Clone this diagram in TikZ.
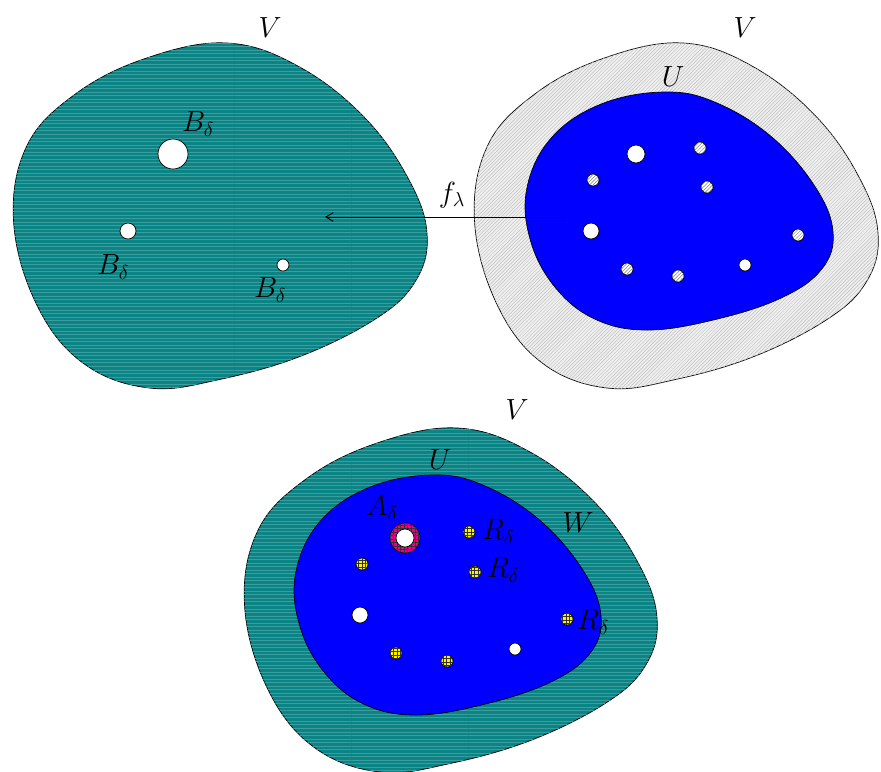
\documentclass[tikz,border=0pt]{standalone}
\usepackage{amsmath,amssymb}
\usepackage{xcolor}
\usepackage{tikz}
\usetikzlibrary{arrows.meta,patterns}

\definecolor{tealfill}{RGB}{10,132,132}
\definecolor{ublue}{RGB}{0,0,255}

% the two region outlines, in a unit box (0..1 wide, 0..1 high)
\newcommand{\outershape}{plot[smooth cycle, tension=0.65] coordinates {
  (0.517,0) (0.692,0.070) (0.853,0.223) (0.960,0.410) (0.998,0.562)
  (0.970,0.690) (0.880,0.795) (0.700,0.905) (0.500,0.975) (0.330,1)
  (0.171,0.928) (0.060,0.760) (0.004,0.520) (0.035,0.300)
  (0.150,0.150) (0.320,0.045)}}
\newcommand{\innershape}{plot[smooth cycle, tension=0.65] coordinates {
  (0.455,0) (0.620,0.045) (0.800,0.190) (0.940,0.400) (0.997,0.590)
  (0.960,0.745) (0.830,0.865) (0.620,0.955) (0.400,1) (0.230,0.955)
  (0.100,0.820) (0.020,0.620) (0.010,0.400) (0.090,0.190) (0.250,0.050)}}

\begin{document}
\begin{tikzpicture}[
  x=0.03cm, y=-0.03cm,
  font=\fontsize{26}{30}\selectfont,
  edge/.style   ={draw=black, line width=0.6pt},
  vset/.style   ={edge, fill=tealfill, postaction={pattern=horizontal lines, pattern color=tealfill!80!white}},
  vgray/.style  ={edge, fill=gray!12, postaction={pattern=north east lines, pattern color=gray!50}},
  uset/.style   ={edge, fill=ublue},
  hole/.style   ={edge, fill=white},
  ghole/.style  ={edge, fill=white, postaction={pattern=north east lines, pattern color=gray}},
  rball/.style  ={edge, fill=yellow, postaction={pattern=grid, pattern color=black!80}},
  aring/.style  ={edge, fill=magenta, postaction={pattern=grid, pattern color=black!80}},
  lbl/.style    ={inner sep=0pt},
  arr/.style    ={-{Straight Barb[length=2.2mm,width=2.6mm]}, line width=0.8pt}
]
\useasboundingbox (0,0) rectangle (881,771);

% left V
\begin{scope}[shift={(12,43)}, xscale=416, yscale=345]
  \path[vset] \outershape;
\end{scope}
\draw[hole] (173,154) circle (15);
\draw[hole] (128,231) circle (8);
\draw[hole] (283,265) circle (6);

% right V and U
\begin{scope}[shift={(473,43)}, xscale=406, yscale=345]
  \path[vgray] \outershape;
\end{scope}
\begin{scope}[shift={(524,92)}, xscale=310, yscale=238]
  \path[uset] \innershape;
\end{scope}
\draw[hole]  (636,154) circle (9);
\draw[hole]  (591,231) circle (8);
\draw[hole]  (745,265) circle (6);
\foreach \p in {(700,148),(593,180),(707,187),(798,235),(627,269),(678,276)}
  \draw[ghole] \p circle (6);

% bottom V, U and W
\begin{scope}[shift={(243,428)}, xscale=415, yscale=344]
  \path[vset] \outershape;
\end{scope}
\begin{scope}[shift={(293,475)}, xscale=309, yscale=240]
  \path[uset] \innershape;
\end{scope}
\draw[aring] (405,538) circle (15);
\draw[hole]  (405,538) circle (9);
\draw[hole]  (360,615) circle (8);
\draw[hole]  (515,649) circle (6);
\foreach \p in {(469,532),(362,564),(475,572),(567,619),(396,653),(447,661)}
  \draw[rball] \p circle (6);

% the map
\coordinate (fsrc) at (567,217);
\coordinate (fdst) at (325,217);
\draw[arr] (fsrc) -- (fdst);

% labels
\node[lbl] (v1) at (270,28)  {$V$};
\node[lbl] (v2) at (745,28)  {$V$};
\node[lbl] (v3) at (517,410) {$V$};
\node[lbl] (u1) at (673,77)  {$U$};
\node[lbl] (u2) at (440,460) {$U$};
\node[lbl] (w)  at (578,523) {$W$};
\node[lbl] (b1) at (198,124) {$B_\delta$};
\node[lbl] (b2) at (113,267) {$B_\delta$};
\node[lbl] (b3) at (270,290) {$B_\delta$};
\node[lbl] (fl) at (452,195) {$f_\lambda$};
\node[lbl] (a)  at (382,508) {$A_\delta$};
\node[lbl] (r1) at (498,532) {$R_\delta$};
\node[lbl] (r2) at (503,570) {$R_\delta$};
\node[lbl] (r3) at (593,622) {$R_\delta$};
\end{tikzpicture}
\end{document}
